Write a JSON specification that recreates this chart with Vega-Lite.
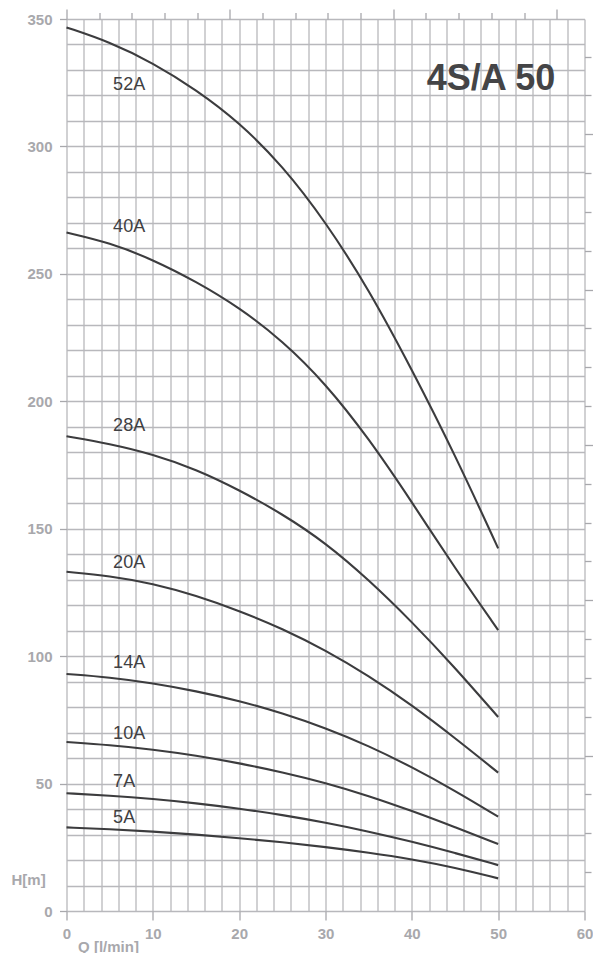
{
  "$schema": "https://vega.github.io/schema/vega-lite/v6.json",
  "width": 518,
  "height": 892,
  "autosize": {"type": "none"},
  "padding": {"left": 66.5, "top": 19, "right": 8.5, "bottom": 42},
  "background": "white",
  "config": {"view": {"stroke": null}, "font": "Liberation Sans"},
  "datasets": {
    "curves": [
      {"pump": "52A", "q": 0, "h": 346.7}, {"pump": "52A", "q": 5, "h": 341.0}, {"pump": "52A", "q": 10, "h": 332.8}, {"pump": "52A", "q": 15, "h": 322.3}, {"pump": "52A", "q": 20, "h": 309.5}, {"pump": "52A", "q": 25, "h": 292.5}, {"pump": "52A", "q": 30, "h": 270.5}, {"pump": "52A", "q": 35, "h": 244.0}, {"pump": "52A", "q": 40, "h": 212.5}, {"pump": "52A", "q": 45, "h": 179.0}, {"pump": "52A", "q": 50, "h": 142.3},
      {"pump": "40A", "q": 0, "h": 266.2}, {"pump": "40A", "q": 5, "h": 262.2}, {"pump": "40A", "q": 10, "h": 255.6}, {"pump": "40A", "q": 15, "h": 247.0}, {"pump": "40A", "q": 20, "h": 236.8}, {"pump": "40A", "q": 25, "h": 223.8}, {"pump": "40A", "q": 30, "h": 207.0}, {"pump": "40A", "q": 35, "h": 185.5}, {"pump": "40A", "q": 40, "h": 160.5}, {"pump": "40A", "q": 45, "h": 134.5}, {"pump": "40A", "q": 50, "h": 110.2},
      {"pump": "28A", "q": 0, "h": 186.3}, {"pump": "28A", "q": 5, "h": 183.3}, {"pump": "28A", "q": 10, "h": 179.2}, {"pump": "28A", "q": 15, "h": 173.3}, {"pump": "28A", "q": 20, "h": 165.2}, {"pump": "28A", "q": 25, "h": 155.8}, {"pump": "28A", "q": 30, "h": 144.5}, {"pump": "28A", "q": 35, "h": 130.0}, {"pump": "28A", "q": 40, "h": 113.5}, {"pump": "28A", "q": 45, "h": 95.5}, {"pump": "28A", "q": 50, "h": 76.1},
      {"pump": "20A", "q": 0, "h": 133.1}, {"pump": "20A", "q": 5, "h": 131.5}, {"pump": "20A", "q": 10, "h": 128.5}, {"pump": "20A", "q": 15, "h": 123.8}, {"pump": "20A", "q": 20, "h": 117.8}, {"pump": "20A", "q": 25, "h": 110.8}, {"pump": "20A", "q": 30, "h": 102.3}, {"pump": "20A", "q": 35, "h": 92.3}, {"pump": "20A", "q": 40, "h": 80.8}, {"pump": "20A", "q": 45, "h": 67.9}, {"pump": "20A", "q": 50, "h": 54.3},
      {"pump": "14A", "q": 0, "h": 93.0}, {"pump": "14A", "q": 5, "h": 91.7}, {"pump": "14A", "q": 10, "h": 89.4}, {"pump": "14A", "q": 15, "h": 86.3}, {"pump": "14A", "q": 20, "h": 82.5}, {"pump": "14A", "q": 25, "h": 77.6}, {"pump": "14A", "q": 30, "h": 71.8}, {"pump": "14A", "q": 35, "h": 64.8}, {"pump": "14A", "q": 40, "h": 56.5}, {"pump": "14A", "q": 45, "h": 47.2}, {"pump": "14A", "q": 50, "h": 37.0},
      {"pump": "10A", "q": 0, "h": 66.3}, {"pump": "10A", "q": 5, "h": 65.1}, {"pump": "10A", "q": 10, "h": 63.4}, {"pump": "10A", "q": 15, "h": 61.0}, {"pump": "10A", "q": 20, "h": 58.0}, {"pump": "10A", "q": 25, "h": 54.5}, {"pump": "10A", "q": 30, "h": 50.3}, {"pump": "10A", "q": 35, "h": 45.2}, {"pump": "10A", "q": 40, "h": 39.3}, {"pump": "10A", "q": 45, "h": 32.9}, {"pump": "10A", "q": 50, "h": 26.3},
      {"pump": "7A", "q": 0, "h": 46.2}, {"pump": "7A", "q": 5, "h": 45.3}, {"pump": "7A", "q": 10, "h": 44.0}, {"pump": "7A", "q": 15, "h": 42.3}, {"pump": "7A", "q": 20, "h": 40.2}, {"pump": "7A", "q": 25, "h": 37.7}, {"pump": "7A", "q": 30, "h": 34.7}, {"pump": "7A", "q": 35, "h": 31.2}, {"pump": "7A", "q": 40, "h": 27.2}, {"pump": "7A", "q": 45, "h": 22.8}, {"pump": "7A", "q": 50, "h": 18.0},
      {"pump": "5A", "q": 0, "h": 32.8}, {"pump": "5A", "q": 5, "h": 32.1}, {"pump": "5A", "q": 10, "h": 31.2}, {"pump": "5A", "q": 15, "h": 30.0}, {"pump": "5A", "q": 20, "h": 28.6}, {"pump": "5A", "q": 25, "h": 27.0}, {"pump": "5A", "q": 30, "h": 25.1}, {"pump": "5A", "q": 35, "h": 22.9}, {"pump": "5A", "q": 40, "h": 20.3}, {"pump": "5A", "q": 45, "h": 17.0}, {"pump": "5A", "q": 50, "h": 12.8}
    ],
    "labels": [
      {"label": "52A", "q": 5.4, "h": 322.1},
      {"label": "40A", "q": 5.4, "h": 266.4},
      {"label": "28A", "q": 5.4, "h": 188.4},
      {"label": "20A", "q": 5.4, "h": 134.7},
      {"label": "14A", "q": 5.4, "h": 95.5},
      {"label": "10A", "q": 5.4, "h": 67.4},
      {"label": "7A", "q": 5.4, "h": 48.5},
      {"label": "5A", "q": 5.4, "h": 34.4}
    ],
    "heading": [{"label": "4S/A 50", "q": 49.17, "h": 322.3}],
    "units": [{"gpm": 0, "ft": 0}]
  },
  "layer": [
    {
      "layer": [
        {
          "data": {"name": "curves"},
          "mark": {"type": "line", "interpolate": "basis", "color": "#3c3c3e", "strokeWidth": 2.1},
          "encoding": {
            "x": {
              "field": "q", "type": "quantitative",
              "scale": {"domain": [0, 60], "nice": false, "zero": false},
              "axis": {
                "orient": "bottom",
                "values": [0,2,4,6,8,10,12,14,16,18,20,22,24,26,28,30,32,34,36,38,40,42,44,46,48,50,52,54,56,58,60],
                "tickCount": 200,
                "format": "d",
                "grid": true, "gridColor": "#b8b8bc", "gridWidth": 1.3,
                "domain": false,
                "tickColor": "#a8a8ac", "tickWidth": 1.3,
                "tickSize": {"condition": {"test": "datum.value % 10 === 0", "value": 9}, "value": 0},
                "labelExpr": "datum.value % 10 === 0 ? datum.label : ''",
                "labelFont": "Liberation Sans", "labelFontWeight": "bold", "labelFontSize": 15, "labelColor": "#a8a8ac",
                "labelPadding": 6, "labelFlush": false, "labelOverlap": false, "labelBound": false,
                "title": "Q [l/min]", "titleFont": "Liberation Sans", "titleFontWeight": "bold", "titleFontSize": 15, "titleColor": "#a8a8ac",
                "titleX": 41.5, "titleY": 40, "titleAlign": "center", "titleBaseline": "alphabetic", "titleAngle": 0
              }
            },
            "y": {
              "field": "h", "type": "quantitative",
              "scale": {"domain": [0, 350], "nice": false, "zero": false},
              "axis": {
                "orient": "left",
                "values": [0,10,20,30,40,50,60,70,80,90,100,110,120,130,140,150,160,170,180,190,200,210,220,230,240,250,260,270,280,290,300,310,320,330,340,350],
                "tickCount": 200,
                "format": "d",
                "grid": true, "gridColor": "#b8b8bc", "gridWidth": 1.3,
                "domain": false,
                "tickColor": "#a8a8ac", "tickWidth": 1.3,
                "tickSize": {"condition": {"test": "datum.value % 50 === 0", "value": 7}, "value": 0},
                "labelExpr": "datum.value % 50 === 0 ? datum.label : ''",
                "labelFont": "Liberation Sans", "labelFontWeight": "bold", "labelFontSize": 15, "labelColor": "#a8a8ac",
                "labelPadding": 7.5, "labelFlush": false, "labelOverlap": false, "labelBound": false,
                "title": "H[m]", "titleFont": "Liberation Sans", "titleFontWeight": "bold", "titleFontSize": 15, "titleColor": "#a8a8ac",
                "titleX": -55.5, "titleY": 865.5, "titleAlign": "left", "titleBaseline": "alphabetic", "titleAngle": 0
              }
            },
            "detail": {"field": "pump", "type": "nominal"}
          }
        },
        {
          "data": {"name": "labels"},
          "mark": {"type": "text", "align": "left", "baseline": "alphabetic", "font": "Liberation Sans", "fontSize": 18, "color": "#404042"},
          "encoding": {
            "x": {"field": "q", "type": "quantitative", "scale": {"domain": [0, 60], "nice": false, "zero": false}},
            "y": {"field": "h", "type": "quantitative", "scale": {"domain": [0, 350], "nice": false, "zero": false}},
            "text": {"field": "label"}
          }
        },
        {
          "data": {"name": "heading"},
          "mark": {"type": "text", "align": "center", "baseline": "alphabetic", "font": "Liberation Sans", "fontWeight": "bold", "fontSize": 36, "color": "#444446"},
          "encoding": {
            "x": {"field": "q", "type": "quantitative", "scale": {"domain": [0, 60], "nice": false, "zero": false}},
            "y": {"field": "h", "type": "quantitative", "scale": {"domain": [0, 350], "nice": false, "zero": false}},
            "text": {"field": "label"}
          }
        }
      ]
    },
    {
      "data": {"name": "units"},
      "mark": {"type": "point", "opacity": 0},
      "encoding": {
        "x": {
          "field": "gpm", "type": "quantitative",
          "scale": {"domain": [0, 15.8503], "nice": false, "zero": false},
          "axis": {
            "orient": "top",
            "values": [0,1,2,3,4,5,6,7,8,9,10,11,12,13,14,15],
            "tickCount": 200,
            "labels": false, "grid": false, "domain": false, "title": null,
            "tickColor": "#a8a8ac", "tickWidth": 1.3,
            "tickSize": {"condition": {"test": "datum.value % 5 === 0", "value": 10}, "value": 6.5}
          }
        },
        "y": {
          "field": "ft", "type": "quantitative",
          "scale": {"domain": [0, 1148.29], "nice": false, "zero": false},
          "axis": {
            "orient": "right",
            "values": [50,100,150,200,250,300,350,400,450,500,550,600,650,700,750,800,850,900,950,1000,1050,1100],
            "tickCount": 200,
            "labels": false, "grid": false, "domain": false, "title": null,
            "tickColor": "#a8a8ac", "tickWidth": 1.3,
            "tickSize": {"condition": {"test": "datum.value % 200 === 0", "value": 9}, "value": 6.5}
          }
        }
      }
    }
  ],
  "resolve": {"scale": {"x": "independent", "y": "independent"}}
}
